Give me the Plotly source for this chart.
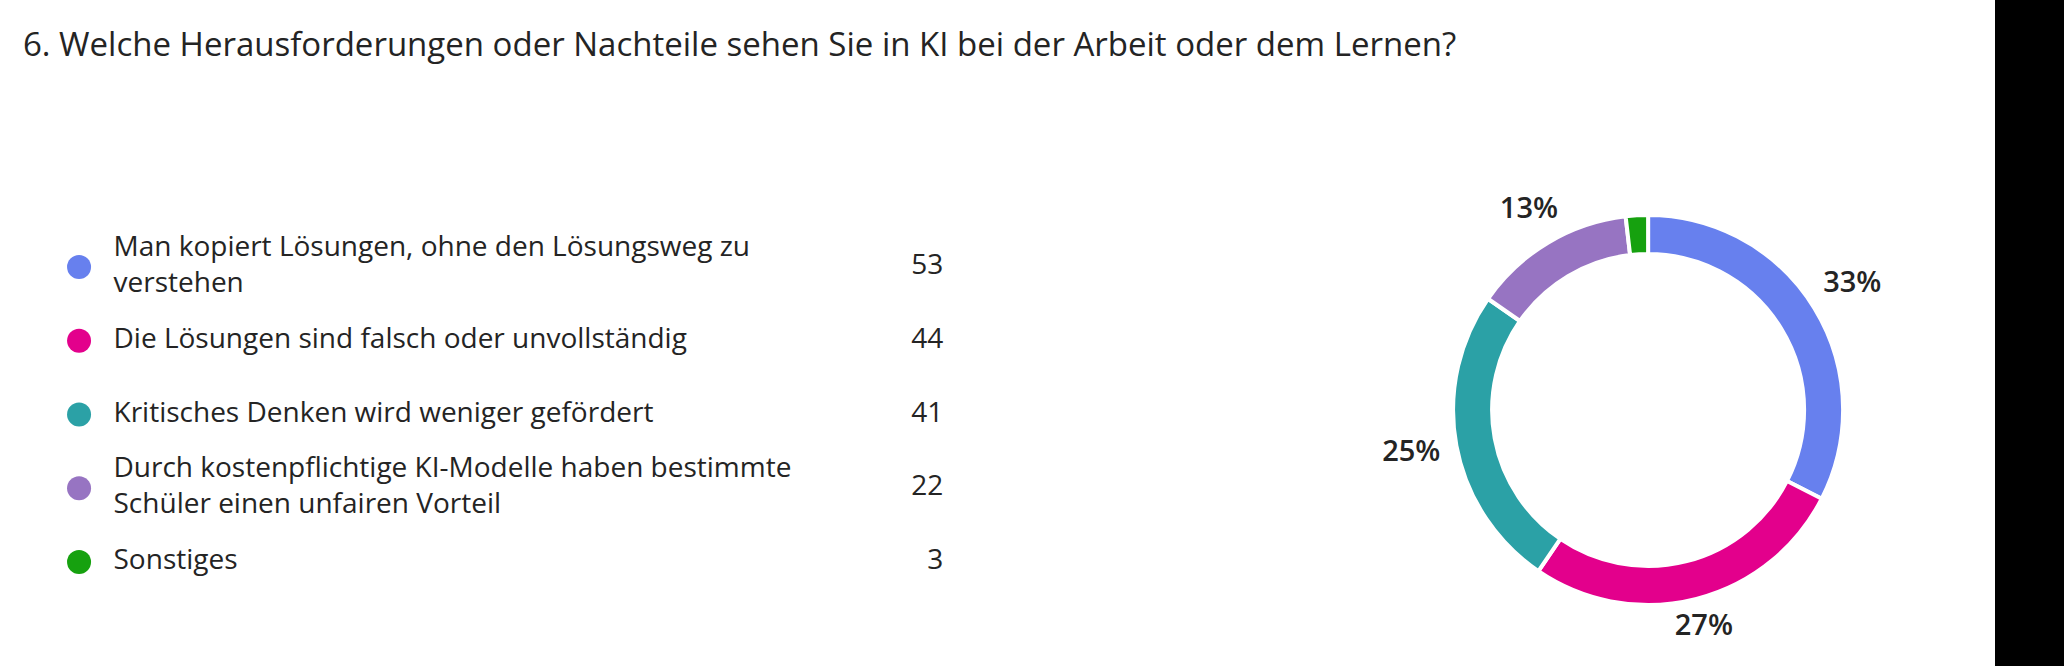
import math
import plotly.graph_objects as go

title_text = "6. Welche Herausforderungen oder Nachteile sehen Sie in KI bei der Arbeit oder dem Lernen?"
categories = [
    "Man kopiert Lösungen, ohne den Lösungsweg zu<br>verstehen",
    "Die Lösungen sind falsch oder unvollständig",
    "Kritisches Denken wird weniger gefördert",
    "Durch kostenpflichtige KI-Modelle haben bestimmte<br>Schüler einen unfairen Vorteil",
    "Sonstiges",
]
counts = [53, 44, 41, 22, 3]
colors = ["#6780EE", "#E3008C", "#2BA1A6", "#9774C2", "#16A10F"]
show_pct = [True, True, True, True, False]

FONT = "Open Sans, Noto Sans, sans-serif"
TXT = "#242424"

PIE_X = [0.704, 0.893]
PIE_Y = [0.0916, 0.6772]
W, H = 2064, 666

fig = go.Figure()

rows = list(range(len(categories)))

# legend dots
fig.add_trace(go.Scatter(
    x=[0.0766] * len(rows), y=rows, mode="markers",
    marker=dict(size=24, color=colors, line=dict(width=0)),
    hoverinfo="skip", showlegend=False,
))
# legend labels
fig.add_trace(go.Scatter(
    x=[0.110] * len(rows), y=rows, mode="text", text=categories,
    textposition="middle right",
    textfont=dict(family=FONT, size=28, color=TXT),
    hoverinfo="skip", showlegend=False,
))
# counts
fig.add_trace(go.Scatter(
    x=[0.914] * len(rows), y=rows, mode="text", text=[str(c) for c in counts],
    textposition="middle left",
    textfont=dict(family=FONT, size=28, color=TXT),
    hoverinfo="skip", showlegend=False,
))

fig.add_trace(go.Pie(
    labels=[c.replace("<br>", " ") for c in categories],
    values=counts,
    sort=False,
    direction="clockwise",
    rotation=0,
    hole=0.8,
    marker=dict(colors=colors, line=dict(color="white", width=4)),
    textinfo="none",
    domain=dict(x=PIE_X, y=PIE_Y),
    showlegend=False,
    hoverinfo="label+value+percent",
))

# percentage labels placed along each slice's mid-angle, on an overlay axis
# whose unit circle coincides with the pie's outer edge
total = sum(counts)
radius_px = min((PIE_X[1] - PIE_X[0]) * W, (PIE_Y[1] - PIE_Y[0]) * H) / 2
lx, ly, lt = [], [], []
cum = 0
for v, s in zip(counts, show_pct):
    mid = (cum + v / 2) / total * 2 * math.pi
    cum += v
    if not s:
        continue
    sx, cy = math.sin(mid), math.cos(mid)
    rho = 1 + (16 + 29 * abs(sx) + 7 * abs(cy)) / radius_px
    lx.append(rho * sx)
    ly.append(rho * cy)
    lt.append(f"{round(100 * v / total)}%")

# overlay axis extents (in pie-radius units) and matching domains
XR = [-1.45, 1.45]
YR = [-1.28, 1.4]
cx, hx = (PIE_X[0] + PIE_X[1]) / 2, (PIE_X[1] - PIE_X[0]) / 2
cy0, hy = (PIE_Y[0] + PIE_Y[1]) / 2, (PIE_Y[1] - PIE_Y[0]) / 2
dom_x2 = [cx + hx * XR[0], cx + hx * XR[1]]
dom_y2 = [cy0 + hy * YR[0], cy0 + hy * YR[1]]

fig.add_trace(go.Scatter(
    x=lx, y=ly, text=lt, mode="text", xaxis="x2", yaxis="y2",
    textposition="middle center",
    textfont=dict(family=FONT, size=29, color=TXT, weight=600),
    hoverinfo="skip", showlegend=False, cliponaxis=False,
))

fig.update_layout(
    width=W, height=H,
    margin=dict(l=0, r=0, t=0, b=0),
    paper_bgcolor="white", plot_bgcolor="rgba(0,0,0,0)",
    xaxis=dict(domain=[0, 0.5], range=[0, 1], visible=False, fixedrange=True),
    yaxis=dict(domain=[0, 1], range=[5.410, -3.620], visible=False, fixedrange=True),
    xaxis2=dict(domain=dom_x2, range=XR, visible=False, fixedrange=True, anchor="y2"),
    yaxis2=dict(domain=dom_y2, range=YR, visible=False, fixedrange=True, anchor="x2"),
    annotations=[dict(
        text=title_text, xref="paper", yref="paper", x=21 / W, y=1 - 43 / H,
        xanchor="left", yanchor="middle", showarrow=False,
        font=dict(family=FONT, size=33, color=TXT),
    )],
    shapes=[dict(type="rect", xref="paper", yref="paper", x0=1995 / W, x1=1,
                 y0=0, y1=1, fillcolor="black", line=dict(width=0), layer="above")],
)

fig.write_html(
    "out.html",
    config={"displayModeBar": False},
    post_script="document.body.style.margin='0';document.body.style.overflow='hidden';",
)
